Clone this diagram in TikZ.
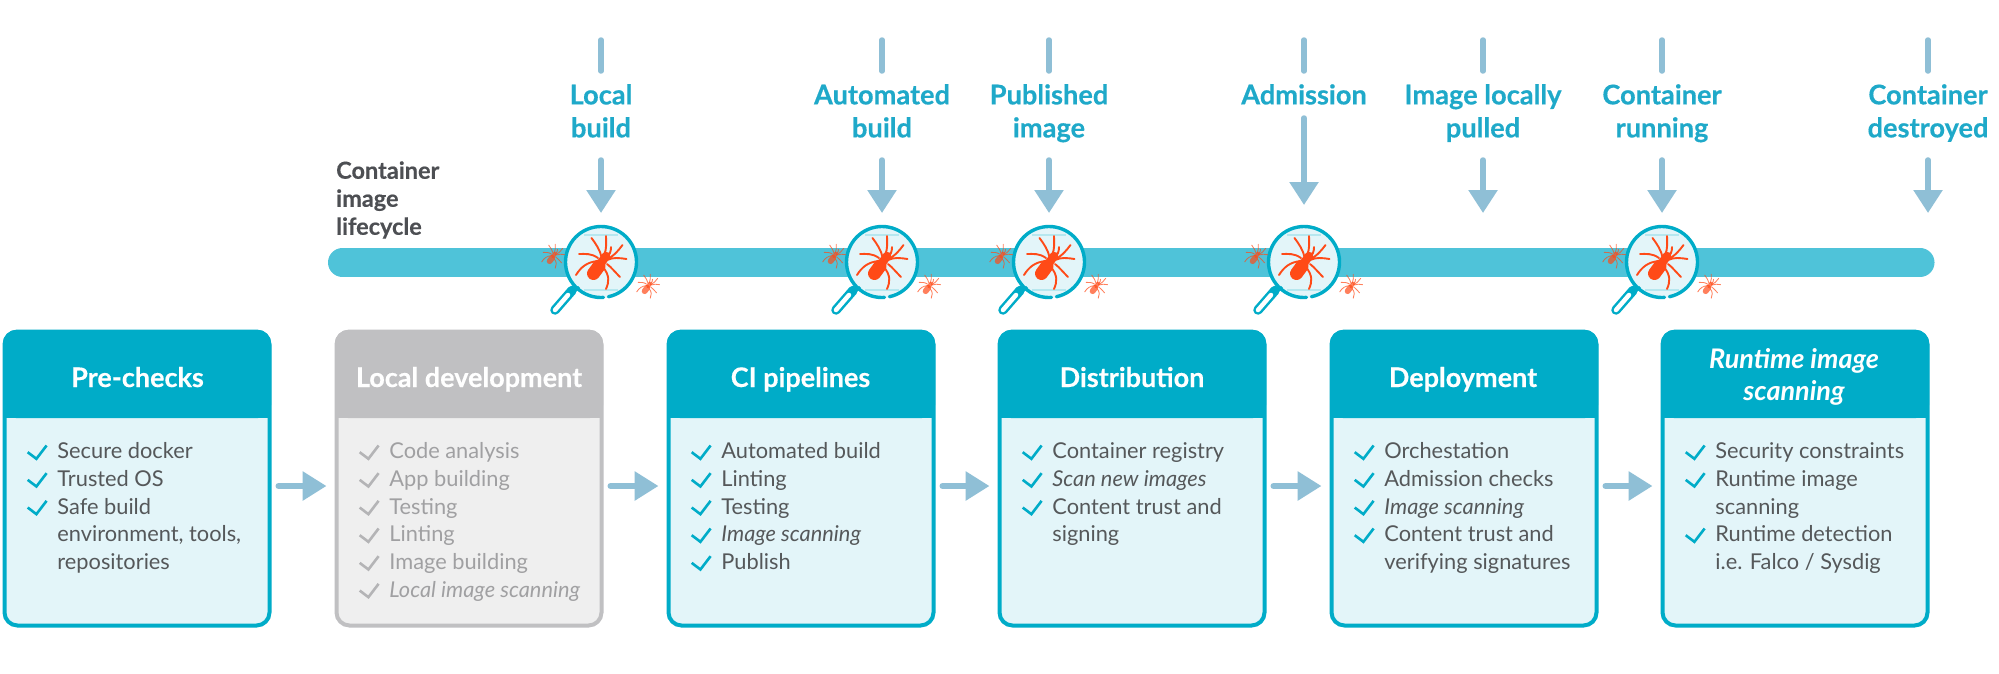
\documentclass[tikz,border=0pt]{standalone}
\usepackage{fontspec}
\setmainfont{Lato}[BoldFeatures={FakeBold=0.35}]
\usetikzlibrary{arrows.meta,calc}
\definecolor{teal}{HTML}{00ACC8}
\definecolor{pale}{HTML}{E3F5F9}
\definecolor{barc}{HTML}{4FC3D9}
\definecolor{arrowc}{HTML}{8FBFD6}
\definecolor{lblc}{HTML}{1FA9C9}
\definecolor{darktxt}{HTML}{55585A}
\definecolor{lifetxt}{HTML}{4D4F53}
\definecolor{graytxt}{HTML}{A0A0A2}
\definecolor{graytick}{HTML}{B4B4B6}
\definecolor{grayhead}{HTML}{C0C0C2}
\definecolor{graybody}{HTML}{EFEFEF}
\definecolor{spiderc}{HTML}{FF4A17}
\newcommand{\tstr}{\rule{0pt}{20pt}}
\newcommand{\bstr}{\rule[-7pt]{0pt}{7pt}}
\tikzset{
  x=1pt,y=-1pt,
  stem/.style={line width=5.5pt,draw=arrowc,line cap=round},
  arrowdown/.style={line width=5.5pt,line cap=round,draw=arrowc,-{Triangle[length=23pt,width=28pt]}},
  flow/.style={line width=6pt,line cap=round,draw=arrowc,-{Triangle[length=24pt,width=28pt]}},
  lbl/.style={inner sep=0pt,align=center,text=lblc,font=\fontsize{27.2}{33}\selectfont\bfseries},
  cardbody/.style={inner sep=0pt,outer sep=0pt,minimum width=265pt,minimum height=294pt,anchor=north west,line width=4pt,rounded corners=13pt},
  head/.style={inner sep=0pt,align=center,font=\fontsize{27}{32}\selectfont\bfseries,text=white},
  item/.style={inner sep=0pt,anchor=base west,font=\fontsize{21.8}{27.7}\selectfont},
  checkmark/.style={line width=2.6pt,line cap=butt,line join=miter},
  pics/spider/.style={code={
    \begin{scope}[x=#1pt,y=-#1pt,line cap=round,draw=spiderc,fill=spiderc]
      \foreach \p in {
        {(0.5,-5) .. controls (-1,-12) and (-5,-18) .. (-9.5,-24)},
        {(3,-7) .. controls (6,-13) and (5,-20) .. (5,-26)},
        {(5,-4) .. controls (9,-7) and (10,-11) .. (10,-15)},
        {(6,-3) .. controls (12,-5) and (17,-11) .. (21.5,-17)},
        {(6,-2) .. controls (12,-5) and (19,-4) .. (25.5,-3)},
        {(6,2) .. controls (10,5) and (14,10) .. (19,15)},
        {(2,5) .. controls (9,14) and (8,20) .. (5,27)},
        {(-3,-1) .. controls (-14,0) and (-20,5) .. (-25,13)},
        {(-3,-4) .. controls (-10,-9) and (-16,-8) .. (-22,-8)}}
      { \draw[line width=#1*1.9pt] \p; }
      \draw[line width=#1*13pt] (-7.5,11.5) -- (-2,4);
      \draw[line width=#1*8.5pt] (0,1) -- (5,-6);
    \end{scope}}},
  pics/lens/.style={code={
    \fill[pale] (0,0) circle (35.5);
    \draw[pale!80!teal,line width=2pt] (-17,-27.5) -- (17,-27.5);
    \draw[pale!80!teal,line width=2pt] (-17,27.5) -- (17,27.5);
    \draw[teal,line width=3.4pt,line cap=round] (78:35.5) arc (78:-274:35.5);
    \draw[teal,line width=9.5pt,line cap=round] (-29,28.5) -- (-46,48);
    \draw[white,line width=4.5pt,line cap=round] (-33,33) -- (-46,48);
    \draw[teal,line width=2.5pt] (-22,25) -- (-29,32);
    \pic at (0,0) {spider=1};
    \begin{scope}[opacity=.7]
    \pic at (-48,-6) {spider=.45};
    \pic at (47,24) {spider=.45};
    \end{scope}
  }},
}
% one list of check-marked lines in a card; #1 card left edge
\newcommand{\cardlist}[4]{%
  \foreach \n/\k/\t in {#4}{
    \pgfmathsetmacro\yy{458.7+27.67*(\n-1)}
    \node[item,text=#2] (i#1x\n) at (#1+54.2,\yy) {\t};
    \ifnum\k=1
      \draw[checkmark,#3] (#1+24.7,\yy-6.5) -- ++(8.7,6.6) -- ++(10.2,-13.3);
    \fi
  }}
\begin{document}
\begin{tikzpicture}
\useasboundingbox (0,0) rectangle (1999,673);
\fill[white] (0,0) rectangle (1999,673);
% lifecycle bar
\coordinate (barL) at (342.5,262.5);
\coordinate (barR) at (1920,262.5);
\draw[barc,line width=29pt,line cap=round] (barL) -- (barR);
\node[inner sep=0pt,anchor=west,align=left,text=lifetxt,font=\fontsize{23.5}{28}\selectfont\bfseries] (cil) at (336,200) {Container\\image\\lifecycle};
% lenses
\foreach \x/\n in {601/a,882/b,1049/c,1304/d,1662/f}{ \pic (lens\n) at (\x,262) {lens}; }
% labels and arrows
\foreach \n/\x/\txt/\yy/\g/\ae in {
  a/601/{\tstr Local\\build\bstr}/114.3/15.4/213,
  b/882/{\tstr Automated\\build\bstr}/114.3/15.4/213,
  c/1049/{\tstr Published\\image\bstr}/114.3/15.4/213,
  d/1304/{\tstr Admission\rule[-7pt]{0pt}{7pt}}/97.8/6.4/205,
  e/1483/{\tstr Image locally\\pulled\bstr}/114.3/15.4/213,
  f/1662/{\tstr Container\\running\bstr}/114.3/15.4/213,
  g/1928/{\tstr Container\\destroyed\bstr}/114.3/15.4/213}{
  \node[lbl] (l\n) at (\x,\yy) {\txt};
  \coordinate (s\n) at (\x,40);
  \coordinate (t\n) at (\x,\ae);
  \draw[stem] (s\n) -- ([yshift=13pt]l\n.north);
  \draw[arrowdown] ([yshift=-\g pt]l\n.south) -- (t\n);
}
% cards
\foreach \n/\x/\col/\bod in {1/3/teal/pale,2/335/grayhead/graybody,3/667/teal/pale,4/998/teal/pale,5/1330/teal/pale,6/1661/teal/pale}{
  \node[cardbody,draw=\col,fill=\bod] (c\n) at (\x+1.5,331.5) {};
  \fill[\col,rounded corners=13pt] (\x,330) rectangle (\x+268,418);
  \fill[\col] (\x,400) rectangle (\x+268,418);
}
\node[head,anchor=base] (h1) at (137.5,387) {Pre-checks};
\node[head,anchor=base] (h2) at (469,387) {Local development};
\node[head,anchor=base] (h3) at (800.5,387) {CI pipelines};
\node[head,anchor=base] (h4) at (1132,387) {Distribution};
\node[head,anchor=base] (h5) at (1463,387) {Deployment};
\node[head] (h6) at (1794,378) {\itshape\tstr Runtime image\\\itshape scanning\bstr};
% flow arrows
\foreach \a/\b in {1/2,2/3,3/4,4/5,5/6}{
  \draw[flow] ([xshift=9pt,yshift=-7.5pt]c\a.east) -- ([xshift=-10pt,yshift=-7.5pt]c\b.west);
}
% items
\cardlist{3}{darktxt}{teal}{1/1/Secure docker,2/1/Trusted OS,3/1/Safe build,4/0/{environment, tools,},5/0/repositories}
\cardlist{335}{graytxt}{graytick}{1/1/Code analysis,2/1/App building,3/1/Testing,4/1/Linting,5/1/Image building,6/1/{\itshape Local image scanning}}
\cardlist{667}{darktxt}{teal}{1/1/Automated build,2/1/Linting,3/1/Testing,4/1/{\itshape Image scanning},5/1/Publish}
\cardlist{998}{darktxt}{teal}{1/1/Container registry,2/1/{\itshape Scan new images},3/1/Content trust and,4/0/signing}
\cardlist{1330}{darktxt}{teal}{1/1/Orchestation,2/1/Admission checks,3/1/{\itshape Image scanning},4/1/Content trust and,5/0/verifying signatures}
\cardlist{1661}{darktxt}{teal}{1/1/Security constraints,2/1/Runtime image,3/0/scanning,4/1/Runtime detection,5/0/{i.e. Falco / Sysdig}}
\end{tikzpicture}
\end{document}
